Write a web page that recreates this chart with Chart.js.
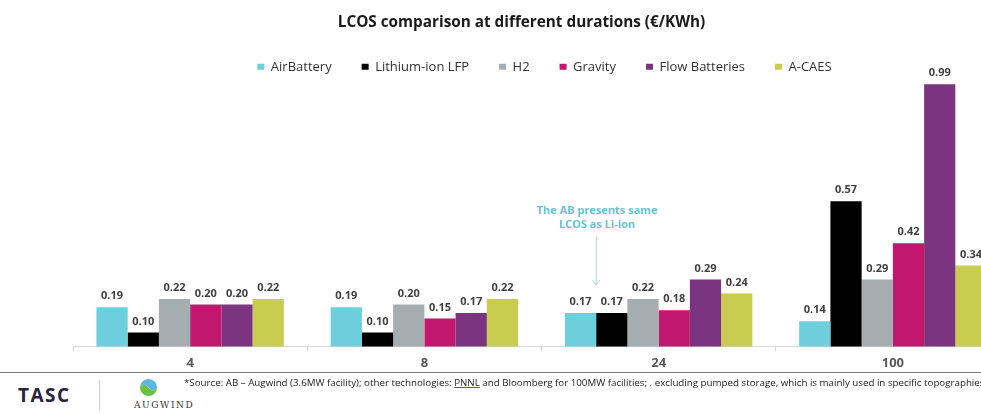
<!DOCTYPE html>
<html><head><meta charset="utf-8">
<script src="https://cdn.jsdelivr.net/npm/chart.js@4.4.0/dist/chart.umd.min.js"></script>
<style>
html,body{margin:0;padding:0;background:#fff;overflow:hidden;width:981px;height:414px;position:relative;}
#wrap{position:absolute;left:0;top:0;width:1050px;height:375px;}
#rule{position:absolute;left:0;top:372px;width:981px;height:1px;background:#7d7589;}
#tasc{position:absolute;left:18px;top:382px;font:bold 19px 'Open Sans';color:#2b2340;letter-spacing:1.5px;}
#sep{position:absolute;left:99px;top:380px;width:1px;height:30px;background:#cfcfcf;}
#logo{position:absolute;left:139px;top:378px;}
#aug{position:absolute;left:134px;top:400px;font:9px 'DejaVu Serif';color:#333;letter-spacing:1.6px;}
#src{position:absolute;left:184px;top:376px;font:9.75px 'Open Sans';color:#222;white-space:nowrap;}
#src u{text-decoration-color:#6a4b9a;}
</style></head><body>
<div id="wrap"><canvas id="c" width="1050" height="375"></canvas></div>
<div id="rule"></div>
<div id="tasc">TASC</div>
<div id="sep"></div>
<svg id="logo" width="19" height="19" viewBox="0 0 20 20"><path d="M10 1 A9 9 0 0 0 1 10 A5 5 0 0 1 10 10 A5 5 0 0 0 19 10 A9 9 0 0 0 10 1Z" fill="#5bb6e0"/><path d="M10 19 A9 9 0 0 0 19 10 A5 5 0 0 1 10 10 A5 5 0 0 0 1 10 A9 9 0 0 0 10 19Z" fill="#6cbf4a"/></svg>
<div id="aug">AUGWIND</div>
<div id="src">*Source: AB – Augwind (3.6MW facility); other technologies: <u>PNNL</u> and Bloomberg for 100MW facilities; . excluding pumped storage, which is mainly used in specific topographies</div>
<script>
const categories = ['4', '8', '24', '100'];
const seriesNames = ['AirBattery', 'Lithium-ion LFP', 'H2', 'Gravity', 'Flow Batteries', 'A-CAES'];
const airBattery    = [0.19, 0.19, 0.17, 0.14];
const lithiumLFP    = [0.10, 0.10, 0.17, 0.57];
const h2            = [0.22, 0.20, 0.22, 0.29];
const gravity       = [0.20, 0.15, 0.18, 0.42];
const flowBatteries = [0.20, 0.17, 0.29, 0.99];
const aCaes         = [0.22, 0.22, 0.24, 0.34];
const seriesColors  = ['#6dcfdc', '#000000', '#a4adb0', '#c1176f', '#7b3580', '#c8cc4f'];
const titleText = 'LCOS comparison at different durations (€/KWh)';
const noteLines = ['The AB presents same', 'LCOS as Li-ion'];

const seriesValues = [airBattery, lithiumLFP, h2, gravity, flowBatteries, aCaes];

const shiftPlugin = {
  id: 'shift',
  afterLayout(chart) {
    const t = chart.titleBlock;
    if (t) { t.left -= 20; t.right -= 20; t.top += 3; t.bottom += 3; }
    const l = chart.legend;
    if (l) { l.left += 3; l.right += 3; l.top += 2; l.bottom += 2; }
  }
};

const labelPlugin = {
  id: 'valueLabels',
  afterDatasetsDraw(chart) {
    const ctx = chart.ctx;
    ctx.save();
    ctx.font = 'bold 11px "Open Sans"';
    ctx.fillStyle = '#404040';
    ctx.textAlign = 'center';
    ctx.textBaseline = 'middle';
    chart.data.datasets.forEach((ds, i) => {
      const meta = chart.getDatasetMeta(i);
      meta.data.forEach((el, j) => {
        ctx.fillText(ds.data[j].toFixed(2), el.x, el.y - 11);
      });
    });
    // annotation
    const el = chart.getDatasetMeta(0).data[2];
    const ax = el.x + el.width / 2;
    const top = el.y;
    ctx.font = 'bold 11px "Open Sans"';
    ctx.fillStyle = '#5cc7d5';
    ctx.fillText(noteLines[0], ax + 1, top - 102);
    ctx.fillText(noteLines[1], ax + 1, top - 88);
    ctx.strokeStyle = '#a9d9e6';
    ctx.lineWidth = 1;
    ctx.beginPath();
    ctx.moveTo(ax, top - 77);
    ctx.lineTo(ax, top - 28);
    ctx.moveTo(ax - 4, top - 33);
    ctx.lineTo(ax, top - 28);
    ctx.lineTo(ax + 4, top - 33);
    ctx.stroke();
    ctx.restore();
  }
};

new Chart(document.getElementById('c'), {
  type: 'bar',
  data: {
    labels: categories,
    datasets: seriesNames.map((name, i) => ({
      label: name,
      data: seriesValues[i],
      backgroundColor: seriesColors[i],
      borderWidth: 0,
      categoryPercentage: 0.8,
      barPercentage: 1.0
    }))
  },
  options: {
    responsive: false,
    animation: false,
    devicePixelRatio: 1,
    layout: { padding: { left: 73, right: 40, top: 0, bottom: 0 } },
    plugins: {
      title: {
        display: true,
        text: titleText,
        color: '#1a1a1a',
        font: { family: 'Open Sans', size: 15.3, weight: 'bold' },
        padding: { top: 10, bottom: 0 }
      },
      legend: {
        display: true,
        position: 'top',
        labels: {
          boxWidth: 7,
          boxHeight: 6,
          padding: 30,
          color: '#333333',
          font: { family: 'Open Sans', size: 13 }
        }
      },
      tooltip: { enabled: false }
    },
    scales: {
      x: {
        grid: { display: true, drawOnChartArea: false, offset: true, tickLength: 5, color: '#d9d9d9' },
        border: { display: true, color: '#d9d9d9' },
        ticks: { color: '#595959', font: { family: 'Open Sans', size: 13, weight: 'bold' }, padding: 4 }
      },
      y: {
        display: false,
        min: 0.05,
        max: 1.0
      }
    }
  },
  plugins: [shiftPlugin, labelPlugin]
});
</script>
</body></html>
